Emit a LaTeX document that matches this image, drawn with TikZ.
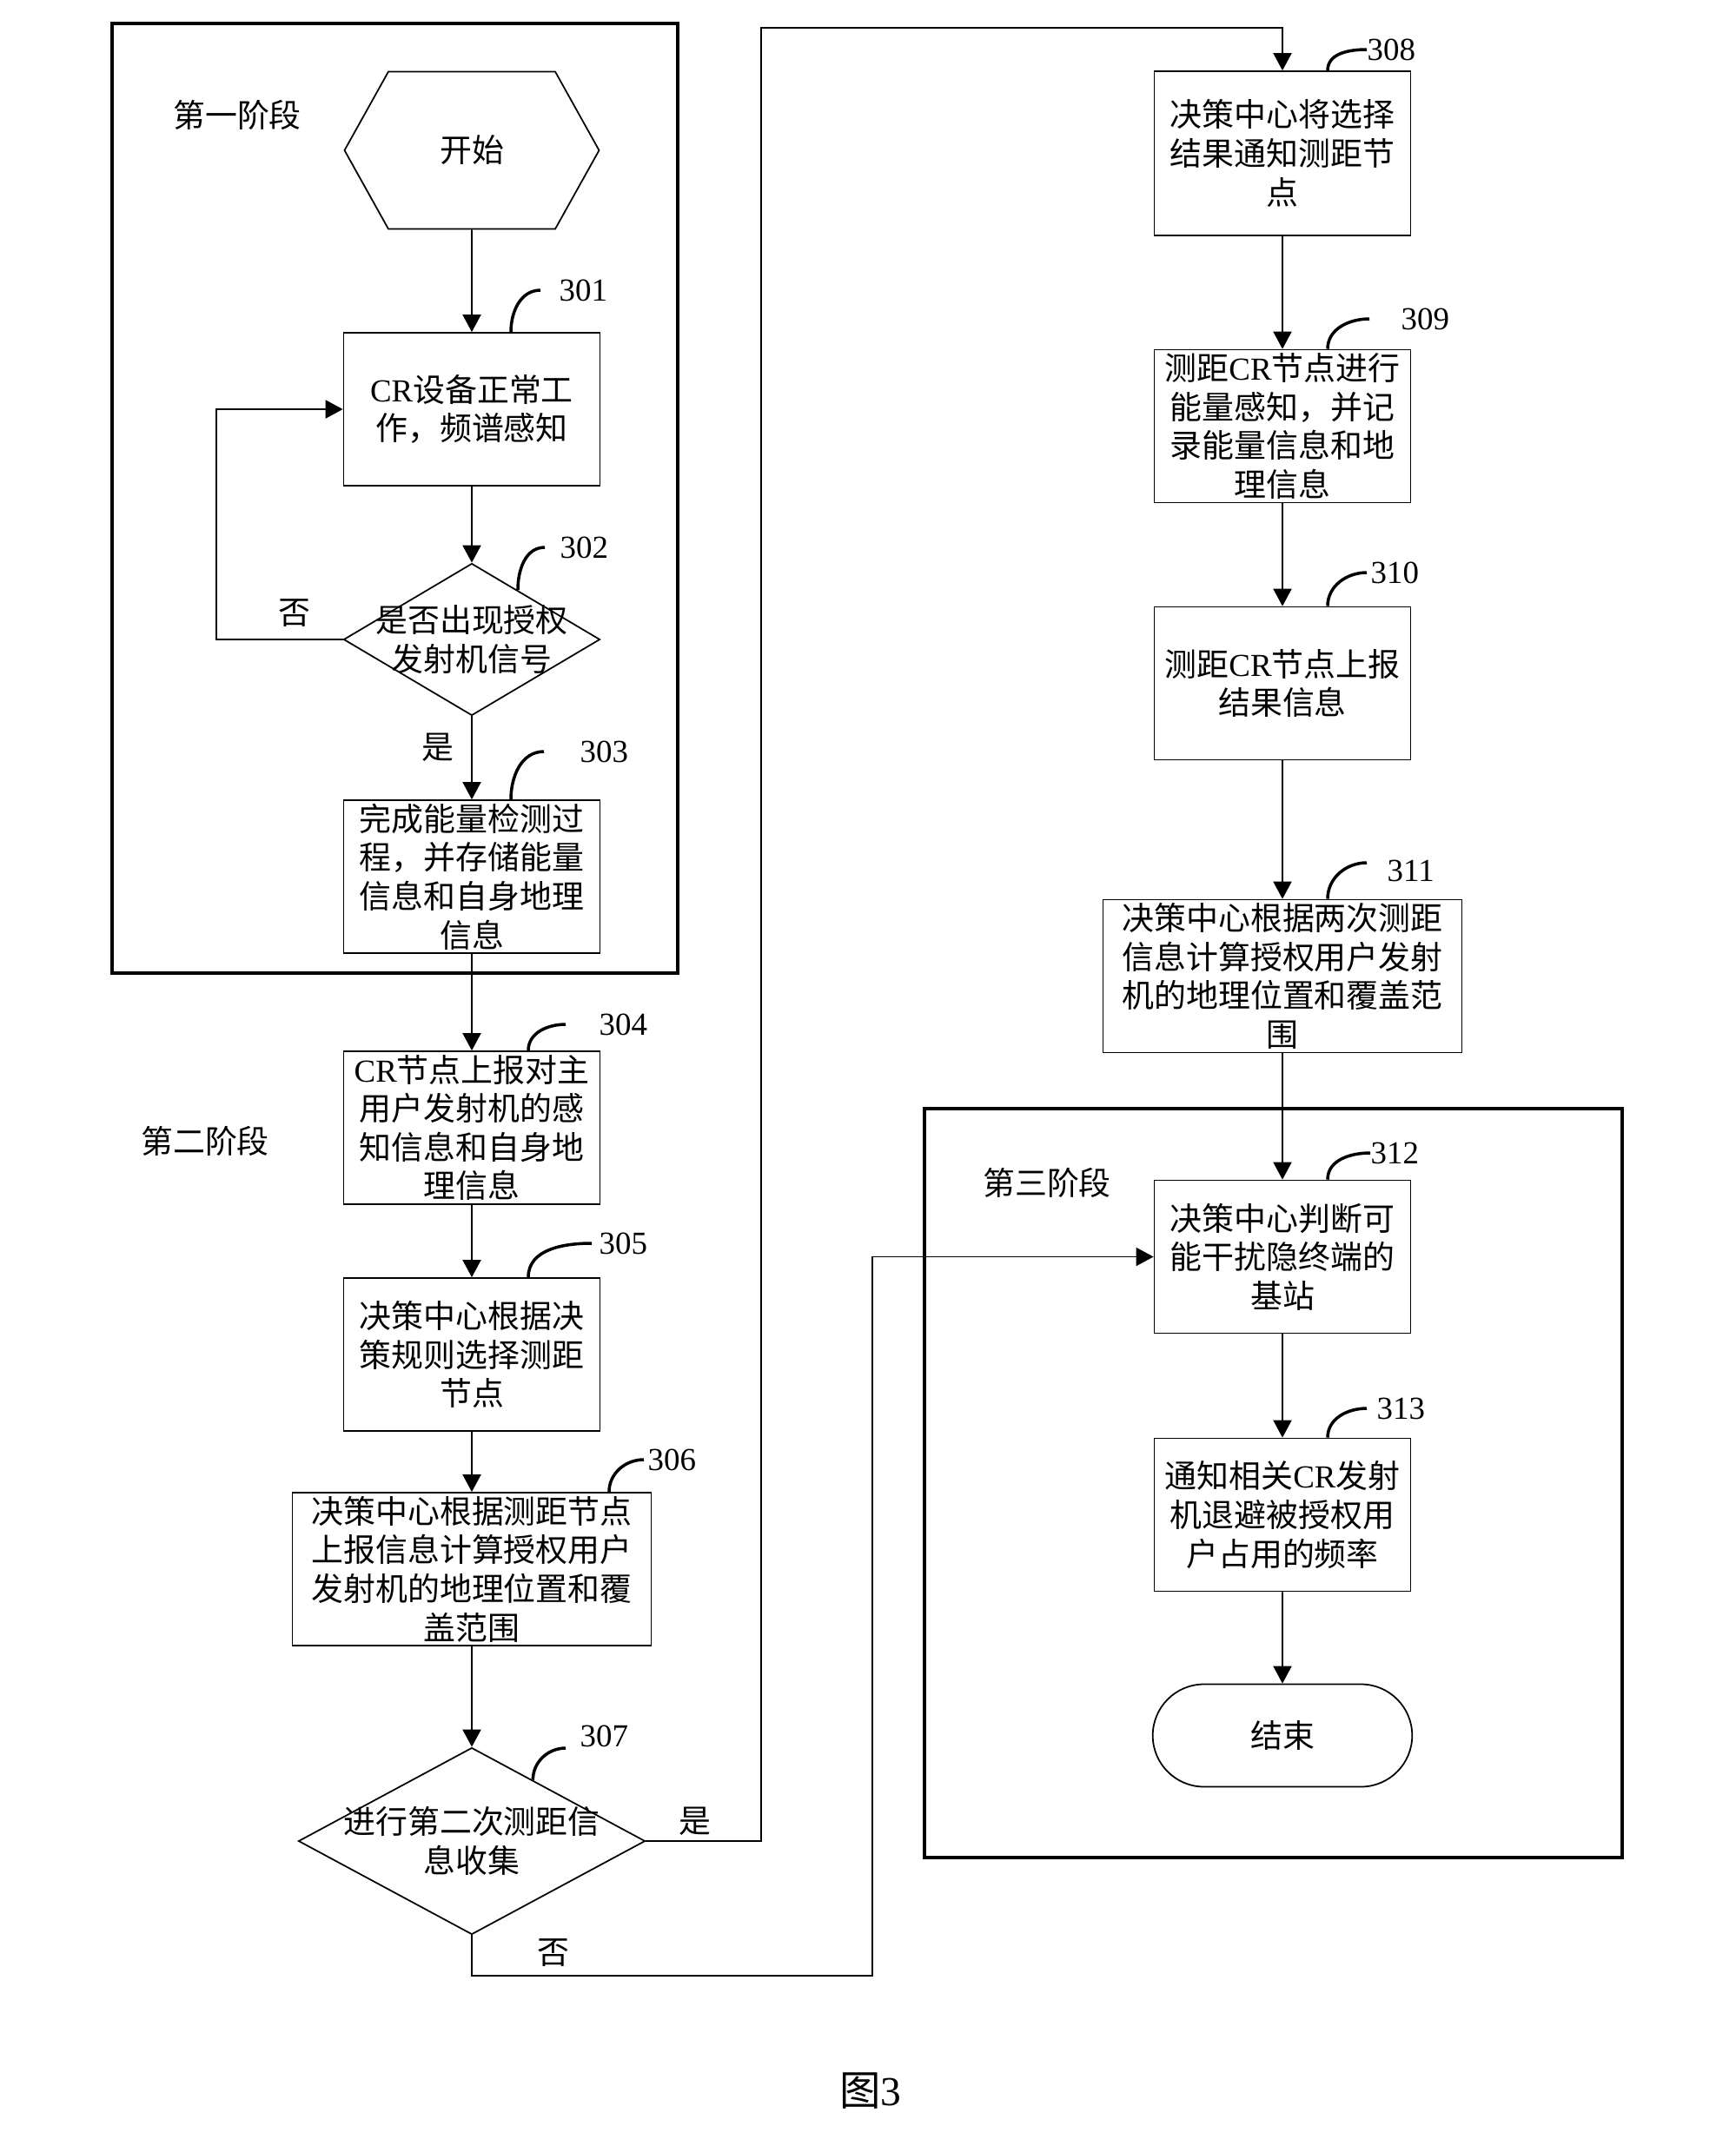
\documentclass[tikz,border=0pt]{standalone}
\usepackage{fontspec}
\setmainfont{Liberation Serif}
\newfontfamily\cjk{Noto Sans CJK SC}
\usetikzlibrary{
	positioning,
	arrows.meta,
	shapes.geometric,
	shapes.symbols,
	shapes.misc
}

\begin{document}
\begin{tikzpicture}[
		>={Triangle[length=5.7pt,width=6pt]},
		every node/.style={font=\cjk\fontsize{10.5pt}{12.7pt}\selectfont},
		stepbox/.style={draw,line width=0.5pt,rectangle,align=center,
			minimum width=2.95cm,minimum height=1.76cm,inner sep=0pt},
		widebox/.style={stepbox,minimum width=4.13cm},
		decision/.style={draw,line width=0.5pt,diamond,inner sep=0pt},
		terminal/.style={draw,line width=0.5pt,rounded rectangle,
			minimum width=3.22cm,minimum height=1.18cm},
		startshape/.style={draw,line width=0.5pt,signal,signal to=west and east,
			signal pointer angle=121.7,minimum width=2.93cm,minimum height=1.81cm,inner sep=0pt},
		flow/.style={->,line width=0.5pt},
		phase/.style={line width=1.2pt},
		leader/.style={line width=1pt},
		stepno/.style={anchor=west,inner sep=0pt,font=\rmfamily\fontsize{10.5pt}{12.7pt}\selectfont},
		tag/.style={inner sep=0pt}
	]
	\useasboundingbox (0,0) rectangle (19.98,-24.70);

	% stage frames
	\draw[phase] (1.29,-0.27) rectangle (7.80,-11.20);
	\draw[phase] (10.64,-12.76) rectangle (18.67,-21.38);

	\draw
		node[startshape] (start) at (5.43,-1.73) {开始}
		node[stepbox,node distance=2.98cm,below of=start] (s301) {{\rmfamily CR}设备正常工\\作，频谱感知}
		node[decision,minimum width=2.95cm,minimum height=1.75cm,node distance=2.65cm,below of=s301,
			label={[align=center]center:{是否出现授权\\发射机信号}}] (d302) {}
		node[stepbox,node distance=2.73cm,below of=d302] (s303) {完成能量检测过\\程，并存储能量\\信息和自身地理\\信息}
		node[stepbox,node distance=2.89cm,below of=s303] (s304) {{\rmfamily CR}节点上报对主\\用户发射机的感\\知信息和自身地\\理信息}
		node[stepbox,node distance=2.61cm,below of=s304] (s305) {决策中心根据决\\策规则选择测距\\节点}
		node[widebox,node distance=2.47cm,below of=s305] (s306) {决策中心根据测距节点\\上报信息计算授权用户\\发射机的地理位置和覆\\盖范围}
		node[decision,minimum width=3.99cm,minimum height=2.15cm,node distance=3.13cm,below of=s306,
			label={[align=center]center:{进行第二次测距信\\息收集}}] (d307) {}

		node[stepbox,minimum height=1.89cm] (s308) at (14.76,-1.765) {决策中心将选择\\结果通知测距节\\点}
		node[stepbox,node distance=3.14cm,below of=s308] (s309) {测距{\rmfamily CR}节点进行\\能量感知，并记\\录能量信息和地\\理信息}
		node[stepbox,node distance=2.96cm,below of=s309] (s310) {测距{\rmfamily CR}节点上报\\结果信息}
		node[widebox,node distance=3.37cm,below of=s310] (s311) {决策中心根据两次测距\\信息计算授权用户发射\\机的地理位置和覆盖范\\围}
		node[stepbox,node distance=3.23cm,below of=s311] (s312) {决策中心判断可\\能干扰隐终端的\\基站}
		node[stepbox,node distance=2.97cm,below of=s312] (s313) {通知相关{\rmfamily CR}发射\\机退避被授权用\\户占用的频率}
		node[terminal,node distance=2.54cm,below of=s313] (stop) {结束}

		(start) edge[flow] (s301)
		(s301)  edge[flow] (d302)
		(d302)  edge[flow] (s303)
		(s303)  edge[flow] (s304)
		(s304)  edge[flow] (s305)
		(s305)  edge[flow] (s306)
		(s306)  edge[flow] (d307)
		(s308)  edge[flow] (s309)
		(s309)  edge[flow] (s310)
		(s310)  edge[flow] (s311)
		(s311)  edge[flow] (s312)
		(s312)  edge[flow] (s313)
		(s313)  edge[flow] (stop)
	;

	% branches
	\coordinate (yesbend) at (8.76,-0.32);
	\coordinate (nobend) at (10.04,-22.74);
	\draw[flow] (d302.west) -- ++(-1.46,0) |- (s301.west);
	\draw[flow] (d307.east) -| (yesbend) -| (s308.north);
	\draw[flow] (d307.south) |- (nobend) |- (s312.west);

	\node[tag] (no302)  at (3.39,-7.06)  {否};
	\node[tag] (yes302) at (5.04,-8.60)  {是};
	\node[tag] (yes307) at (8.00,-20.96) {是};
	\node[tag] (no307)  at (6.37,-22.47) {否};

	\node (phase1) at (2.73,-1.32)  {第一阶段};
	\node (phase2) at (2.36,-13.13) {第二阶段};
	\node (phase3) at (12.05,-13.61) {第三阶段};

	% step numbers
	\node[stepno] (n301) at (6.43,-3.34)  {301};
	\node[stepno] (n302) at (6.44,-6.30)  {302};
	\node[stepno] (n303) at (6.67,-8.65)  {303};
	\node[stepno] (n304) at (6.89,-11.79) {304};
	\node[stepno] (n305) at (6.89,-14.31) {305};
	\node[stepno] (n306) at (7.45,-16.80) {306};
	\node[stepno] (n307) at (6.67,-19.98) {307};
	\node[stepno] (n308) at (15.73,-0.57) {308};
	\node[stepno] (n309) at (16.12,-3.67) {309};
	\node[stepno] (n310) at (15.77,-6.59) {310};
	\node[stepno] (n311) at (15.96,-10.02) {311};
	\node[stepno] (n312) at (15.77,-13.27) {312};
	\node[stepno] (n313) at (15.84,-16.21) {313};

	\draw[leader] ([xshift=0.45cm]s301.north) to[out=90,in=180] ([xshift=-0.21cm]n301.west);
	\draw[leader] (d302.47) to[out=90,in=180] ([xshift=-0.17cm]n302.west);
	\draw[leader] ([xshift=0.45cm]s303.north) to[out=90,in=180] ([xshift=-0.41cm]n303.west);
	\draw[leader] ([xshift=0.65cm]s304.north) to[out=90,in=180] ([xshift=-0.38cm]n304.west);
	\draw[leader] ([xshift=0.65cm]s305.north) to[out=90,in=180] ([xshift=-0.08cm]n305.west);
	\draw[leader] ([xshift=1.58cm]s306.north) to[out=90,in=180] ([xshift=-0.04cm]n306.west);
	\draw[leader] (d307.45) to[out=90,in=180] ([xshift=-0.16cm,yshift=-0.14cm]n307.west);
	\draw[leader] ([xshift=0.52cm]s308.north) to[out=90,in=180] (n308.west);
	\draw[leader] ([xshift=0.52cm]s309.north) to[out=90,in=180] ([xshift=-0.36cm]n309.west);
	\draw[leader] ([xshift=0.52cm]s310.north) to[out=90,in=180] ([xshift=-0.04cm]n310.west);
	\draw[leader] ([xshift=0.52cm]s311.north) to[out=90,in=180] ([xshift=-0.23cm,yshift=0.09cm]n311.west);
	\draw[leader] ([xshift=0.52cm]s312.north) to[out=90,in=180] (n312.west);
	\draw[leader] ([xshift=0.52cm]s313.north) to[out=90,in=180] ([xshift=-0.11cm]n313.west);

	\node[font=\cjk\fontsize{13.5pt}{16pt}\selectfont] (caption) at (10.02,-24.06) {图{\rmfamily 3}};
\end{tikzpicture}
\end{document}
